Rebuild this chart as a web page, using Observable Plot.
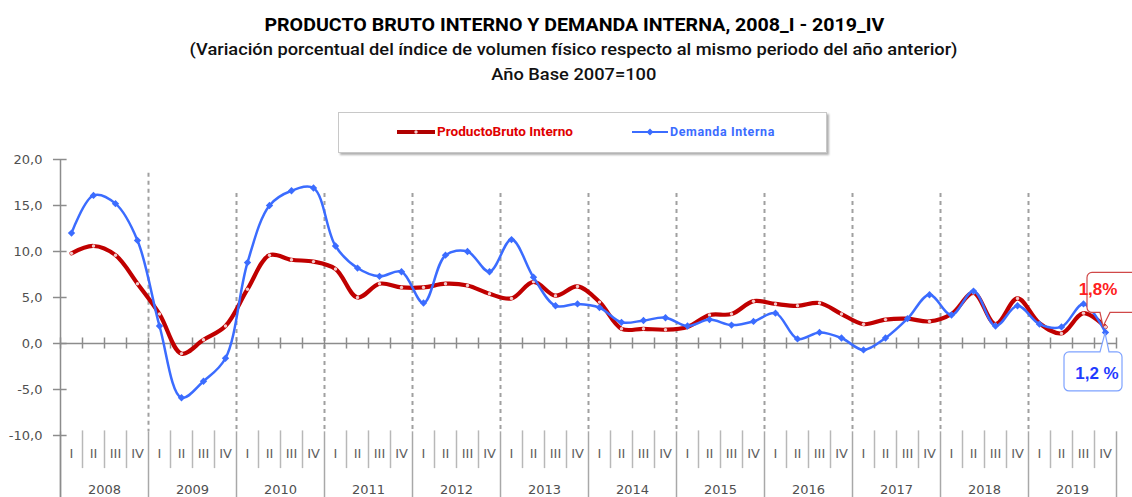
<!DOCTYPE html>
<html>
<head>
<meta charset="utf-8">
<script src="https://cdn.jsdelivr.net/npm/d3@7"></script>
<script src="https://cdn.jsdelivr.net/npm/@observablehq/plot@0.6"></script>
<style>
  html, body { margin: 0; padding: 0; background: #fff; }
  body { width: 1132px; height: 497px; position: relative; overflow: hidden;
         font-family: "Liberation Sans Narrow", "Arial Narrow", Roboto, "Liberation Sans", sans-serif; }
  .tline { position: absolute; left: 16px; width: 1116px; text-align: center; white-space: nowrap; }
  .tline span { display: inline-block; transform-origin: 50% 50%; }
  #t1 { top: 16px; font-size: 18px; line-height: 18px; font-weight: bold; color: #000; }
  #t2 { top: 41px; font-size: 17px; line-height: 17px; font-weight: 500; color: #111; }
  #t3 { top: 66px; font-size: 17px; line-height: 17px; font-weight: 500; color: #111; }
  #legend { position: absolute; left: 338px; top: 112px; width: 487px; height: 39px;
            border: 1px solid #c8c8c8; box-shadow: 2px 2px 2px #b0b0b0; background: #fff; }
  .lg { position: absolute; white-space: nowrap; font-weight: bold; font-size: 12px; line-height: 12px; transform-origin: 0 50%; }
  #chart { position: absolute; left: 0; top: 100px; }
</style>
</head>
<body>
<div class="tline" id="t1"><span>PRODUCTO BRUTO INTERNO Y DEMANDA INTERNA, 2008_I - 2019_IV</span></div>
<div class="tline" id="t2"><span>(Variación porcentual del índice de volumen físico respecto al mismo periodo del año anterior)</span></div>
<div class="tline" id="t3"><span>Año Base 2007=100</span></div>
<div id="legend"></div>
<div id="chart"></div>
<script>
// ---------- data ----------
const years = [2008, 2009, 2010, 2011, 2012, 2013, 2014, 2015, 2016, 2017, 2018, 2019];
const quarterLabels = ["I", "II", "III", "IV"];
const seriesNames = ["ProductoBruto Interno", "Demanda Interna"];
// Producto Bruto Interno (var. %)
const pbi = [
  9.8, 10.6, 9.6, 6.5,
  3.2, -1.1, 0.4, 1.9,
  5.9, 9.6, 9.1, 8.9,
  8.1, 5.0, 6.5, 6.1,
  6.1, 6.5, 6.3, 5.4,
  4.9, 6.7, 5.2, 6.2,
  4.5, 1.6, 1.6, 1.5,
  1.8, 3.1, 3.2, 4.6,
  4.3, 4.1, 4.4, 3.2,
  2.1, 2.6, 2.7, 2.4,
  3.2, 5.5, 2.1, 4.9,
  2.2, 1.1, 3.3, 1.8
];
// Demanda Interna (var. %)
const demanda = [
  12.0, 16.1, 15.2, 11.2,
  1.9, -5.9, -4.1, -1.6,
  8.8, 15.0, 16.6, 16.9,
  10.6, 8.2, 7.3, 7.8,
  4.4, 9.6, 10.0, 7.8,
  11.3, 7.2, 4.1, 4.3,
  3.9, 2.3, 2.5, 2.8,
  1.9, 2.6, 2.0, 2.4,
  3.3, 0.5, 1.2, 0.6,
  -0.7, 0.6, 2.7, 5.3,
  3.1, 5.7, 1.9, 4.1,
  2.1, 1.8, 4.3, 1.2
];
const yTicks = [-10, -5, 0, 5, 10, 15, 20];
const yTickLabels = ["-10,0", "-5,0", "0,0", "5,0", "10,0", "15,0", "20,0"];
const lastLabels = ["1,8%", "1,2 %"];

// ---------- styles ----------
const RED = "#c00000", BLUE = "#3b6cff", AX = "#8c8c8c";

const rows = years.flatMap((yr, yi) => quarterLabels.map((q, qi) => {
  const i = yi * 4 + qi;
  return { i, year: yr, q, pbi: pbi[i], dem: demanda[i] };
}));
const n = rows.length;
const bounds = d3.range(n + 1);
const yearBounds = bounds.filter(b => b % 4 === 0);
const innerBounds = bounds.filter(b => b % 4 !== 0);
const dashedBounds = yearBounds.filter(b => b > 0 && b < n);
const xc = d => d.i + 0.5;

const chart = Plot.plot({
  width: 1132, height: 397,
  marginTop: 59, marginBottom: 62, marginLeft: 60, marginRight: 16,
  x: { domain: [0, n], axis: null },
  y: { domain: [-10, 20], axis: null },
  style: { fontFamily: "DejaVu Sans, sans-serif", overflow: "visible", background: "transparent" },
  marks: [
    Plot.ruleX(dashedBounds, { x: d => d, y1: (d, i) => i === 0 ? 18.5 : 16.3, y2: -9.6,
      stroke: "#a0a0a0", strokeWidth: 2, strokeDasharray: "4,4" }),
    Plot.ruleX(yearBounds, { x: d => d, y1: -9.6, y2: -17, stroke: "#a8a8a8", strokeWidth: 1.5 }),
    Plot.ruleX(innerBounds, { x: d => d, y1: -9.5, y2: -13.6, stroke: "#b8b8b8", strokeWidth: 1.5 }),
    Plot.ruleX([0], { y1: 20, y2: -17, stroke: AX, strokeWidth: 1.5 }),
    Plot.ruleY(yTicks, { y: d => d, x1: -0.32, x2: 0.3, stroke: AX, strokeWidth: 1.5 }),
    Plot.ruleX(bounds, { x: d => d, y1: 0.6, y2: -0.6, stroke: AX, strokeWidth: 1.5 }),
    Plot.ruleY([0], { x1: 0, x2: n, stroke: AX, strokeWidth: 1.5 }),
    Plot.text(yTicks, { x: 0, y: d => d, text: (d, i) => yTickLabels[i], textAnchor: "end", dx: -18,
      fontSize: 13, fill: "#505050" }),
    Plot.text(rows, { x: xc, frameAnchor: "bottom", dy: 22, text: "q", fontSize: 13, fill: "#606060" }),
    Plot.text(years, { x: (d, i) => i * 4 + 2, frameAnchor: "bottom", dy: 58, text: d => String(d),
      fontSize: 13, fill: "#505050" }),
    Plot.line(rows, { x: xc, y: "pbi", curve: "catmull-rom", stroke: RED, strokeWidth: 4.2 }),
    Plot.dot(rows, { x: xc, y: "pbi", r: 1.7, fill: "#f2cccc" }),
    Plot.line(rows, { x: xc, y: "dem", curve: "catmull-rom", stroke: BLUE, strokeWidth: 2.5 }),
    Plot.dot(rows, { x: xc, y: "dem", r: 3.3, symbol: "diamond2", fill: BLUE })
  ]
});
document.getElementById("chart").appendChild(chart);

// ---------- callouts anchored on the last points via the plot's scales ----------
const sx = chart.scale("x"), sy = chart.scale("y");
const svg = d3.select(chart);
function calloutPath(L, T, R, B, r, pointer) {
  const p = d3.path();
  p.moveTo(L + r, T);
  if (pointer.side === "top") { p.lineTo(pointer.a, T); p.lineTo(pointer.tx, pointer.ty); p.lineTo(pointer.b, T); }
  p.lineTo(R - r, T); p.arcTo(R, T, R, T + r, r);
  p.lineTo(R, B - r); p.arcTo(R, B, R - r, B, r);
  if (pointer.side === "bottom") { p.lineTo(pointer.b, B); p.lineTo(pointer.tx, pointer.ty); p.lineTo(pointer.a, B); }
  p.lineTo(L + r, B); p.arcTo(L, B, L, B - r, r);
  p.lineTo(L, T + r); p.arcTo(L, T, L + r, T, r);
  p.closePath();
  return p.toString();
}
{
  const px = sx.apply(n - 0.5), py = sy.apply(pbi[n - 1]);
  svg.append("path")
    .attr("d", calloutPath(px - 18, py - 54, px + 40, py - 14, 5,
      { side: "bottom", a: px - 5, b: px + 5, tx: px - 2, ty: py }))
    .attr("fill", "#fff").attr("stroke", "#d04848").attr("stroke-width", 1.2);
  svg.append("text").attr("x", px - 7).attr("y", py - 37).attr("dy", "0.35em")
    .attr("font-family", "Liberation Sans, Arial, sans-serif").attr("font-weight", "bold")
    .attr("font-size", 17).attr("fill", "#ff2020").text(lastLabels[0]);
}
{
  const px = sx.apply(n - 0.5), py = sy.apply(demanda[n - 1]);
  svg.append("path")
    .attr("d", calloutPath(px - 41, py + 20, px + 17, py + 59, 5,
      { side: "top", a: px - 5, b: px + 4, tx: px, ty: py + 1 }))
    .attr("fill", "#fff").attr("stroke", "#7ea2ff").attr("stroke-width", 1.2);
  svg.append("text").attr("x", px - 8).attr("y", py + 41).attr("dy", "0.35em").attr("text-anchor", "middle")
    .attr("font-family", "Liberation Sans, Arial, sans-serif").attr("font-weight", "bold")
    .attr("font-size", 17).attr("fill", "#1f3cff").text(lastLabels[1]);
}

// ---------- legend ----------
const lg = document.getElementById("legend");
lg.innerHTML = `
  <svg width="487" height="39" style="position:absolute;left:0;top:0">
    <line x1="58" x2="96" y1="19" y2="19" stroke="#b00000" stroke-width="4"/>
    <circle cx="77" cy="19" r="1.7" fill="#f2cccc"/>
    <line x1="293" x2="329" y1="19" y2="19" stroke="${BLUE}" stroke-width="2"/>
    <path d="${d3.symbol(d3.symbolDiamond2, 30)()}" transform="translate(311,19)" fill="${BLUE}"/>
  </svg>
  <div class="lg" id="lg1" style="left:98px;top:13px;color:#e00000">${seriesNames[0]}</div>
  <div class="lg" id="lg2" style="left:331px;top:13px;color:${BLUE};letter-spacing:0.6px">${seriesNames[1]}</div>`;

// fit text widths to the reference layout
function fit(el, target) {
  const w = el.getBoundingClientRect().width;
  if (w > 0) el.style.transform = `scaleX(${target / w})`;
}
fit(document.querySelector("#t1 span"), 620);
fit(document.querySelector("#t2 span"), 768);
fit(document.querySelector("#t3 span"), 165);
fit(document.getElementById("lg1"), 136);
fit(document.getElementById("lg2"), 105);
</script>
</body>
</html>
